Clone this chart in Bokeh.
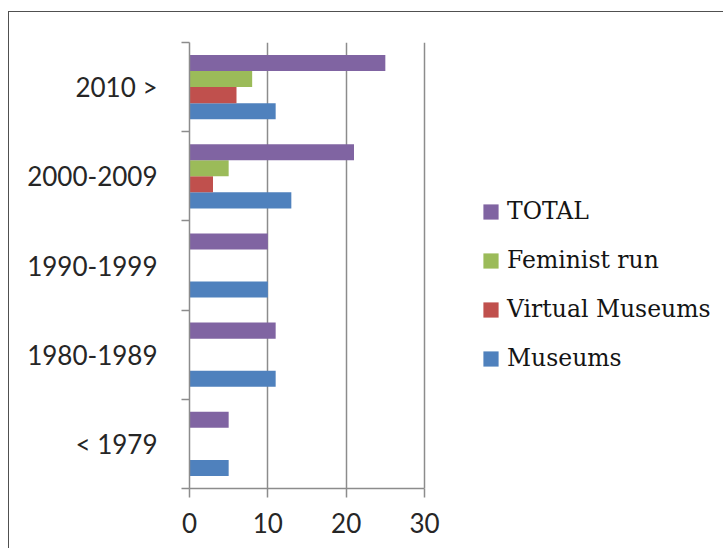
import numpy as np
from bokeh.plotting import figure
from bokeh.models import FixedTicker, Legend, LegendItem, ColumnDataSource
from bokeh.embed import file_html
from bokeh.resources import INLINE

# ---- data ----
categories = ["< 1979", "1980-1989", "1990-1999", "2000-2009", "2010 >"]
museums = [5, 11, 10, 13, 11]
virtual_museums = [0, 0, 0, 3, 6]
feminist_run = [0, 0, 0, 5, 8]
total = [5, 11, 10, 21, 25]
x_ticks = [0, 10, 20, 30]

series_names = ["Museums", "Virtual Museums", "Feminist run", "TOTAL"]
series_values = [museums, virtual_museums, feminist_run, total]
series_colors = ["#4F81BD", "#C0504D", "#9BBB59", "#8064A2"]

bar_h = 0.18
n_cat = len(categories)
n_ser = len(series_names)
offsets = (np.arange(n_ser) - (n_ser - 1) / 2) * bar_h
cat_idx = np.arange(n_cat)

# layout (pixels)
W, H = 723, 548
left_b, top_b, bottom_b = 189, 42, 60
axis_px = 235            # pixel length of the 0..30 value axis
frame_w = W - left_b     # frame extends to the right edge (legend lives inside it)
x_end = x_ticks[-1] * frame_w / axis_px

p = figure(width=W, height=H,
           x_range=(x_ticks[0], x_end), y_range=(-0.5, n_cat - 0.5),
           output_backend="svg", toolbar_location=None,
           min_border_left=left_b, min_border_right=0,
           min_border_top=top_b, min_border_bottom=bottom_b)
p.outline_line_color = None
p.background_fill_color = None
p.border_fill_color = None
p.styles = {
    "background": "linear-gradient(#505050,#505050) 8px 11px / 100% 1px no-repeat, "
                  "linear-gradient(#505050,#505050) 8px 11px / 1px 100% no-repeat, #ffffff"
}

renderers = {}
for name, vals, col, off in zip(series_names, series_values, series_colors, offsets):
    src = ColumnDataSource(dict(y=cat_idx + off, right=vals))
    r = p.hbar(y="y", right="right", left=0, height=bar_h, source=src,
               fill_color=col, line_color=None)
    renderers[name] = r

# grid
p.ygrid.visible = False
p.xgrid.grid_line_color = "#8c8c8c"
p.xgrid.grid_line_width = 1.5
p.xgrid.ticker = FixedTicker(ticks=x_ticks)

axis_col = "#8c8c8c"
label_font = "Lato"
# x axis
xa = p.xaxis[0]
xa.ticker = FixedTicker(ticks=x_ticks)
xa.bounds = (x_ticks[0], x_ticks[-1])
xa.axis_line_color = axis_col
xa.axis_line_width = 1.5
xa.major_tick_line_color = axis_col
xa.major_tick_line_width = 1.5
xa.major_tick_out = 9
xa.major_tick_in = 0
xa.minor_tick_line_color = None
xa.major_label_text_font = label_font
xa.major_label_text_font_size = "26px"
xa.major_label_text_color = "#262626"
xa.major_label_standoff = 15

# y axis
ya = p.yaxis[0]
ya.ticker = FixedTicker(ticks=list(cat_idx), minor_ticks=list(np.arange(n_cat + 1) - 0.5))
ya.major_label_overrides = {int(i): c for i, c in zip(cat_idx, categories)}
ya.axis_line_color = axis_col
ya.axis_line_width = 1.5
ya.major_tick_line_color = None
ya.major_tick_out = 0
ya.major_tick_in = 0
ya.minor_tick_line_color = axis_col
ya.minor_tick_line_width = 1.5
ya.minor_tick_out = 8
ya.minor_tick_in = 0
ya.major_label_text_font = label_font
ya.major_label_text_font_size = "26px"
ya.major_label_text_color = "#262626"
ya.major_label_standoff = 24

legend_order = ["TOTAL", "Feminist run", "Virtual Museums", "Museums"]
legend = Legend(items=[LegendItem(label=n, renderers=[renderers[n]]) for n in legend_order],
                location=(292, 115), orientation="vertical",
                padding=0, margin=0, border_line_color=None, background_fill_alpha=0,
                glyph_width=19, glyph_height=19, label_height=30, spacing=19,
                label_standoff=7, label_text_font="DejaVu Serif",
                label_text_font_size="23.5px", label_text_color="#141414")
p.add_layout(legend, "center")

open("out.html", "w").write(file_html(p, INLINE))
